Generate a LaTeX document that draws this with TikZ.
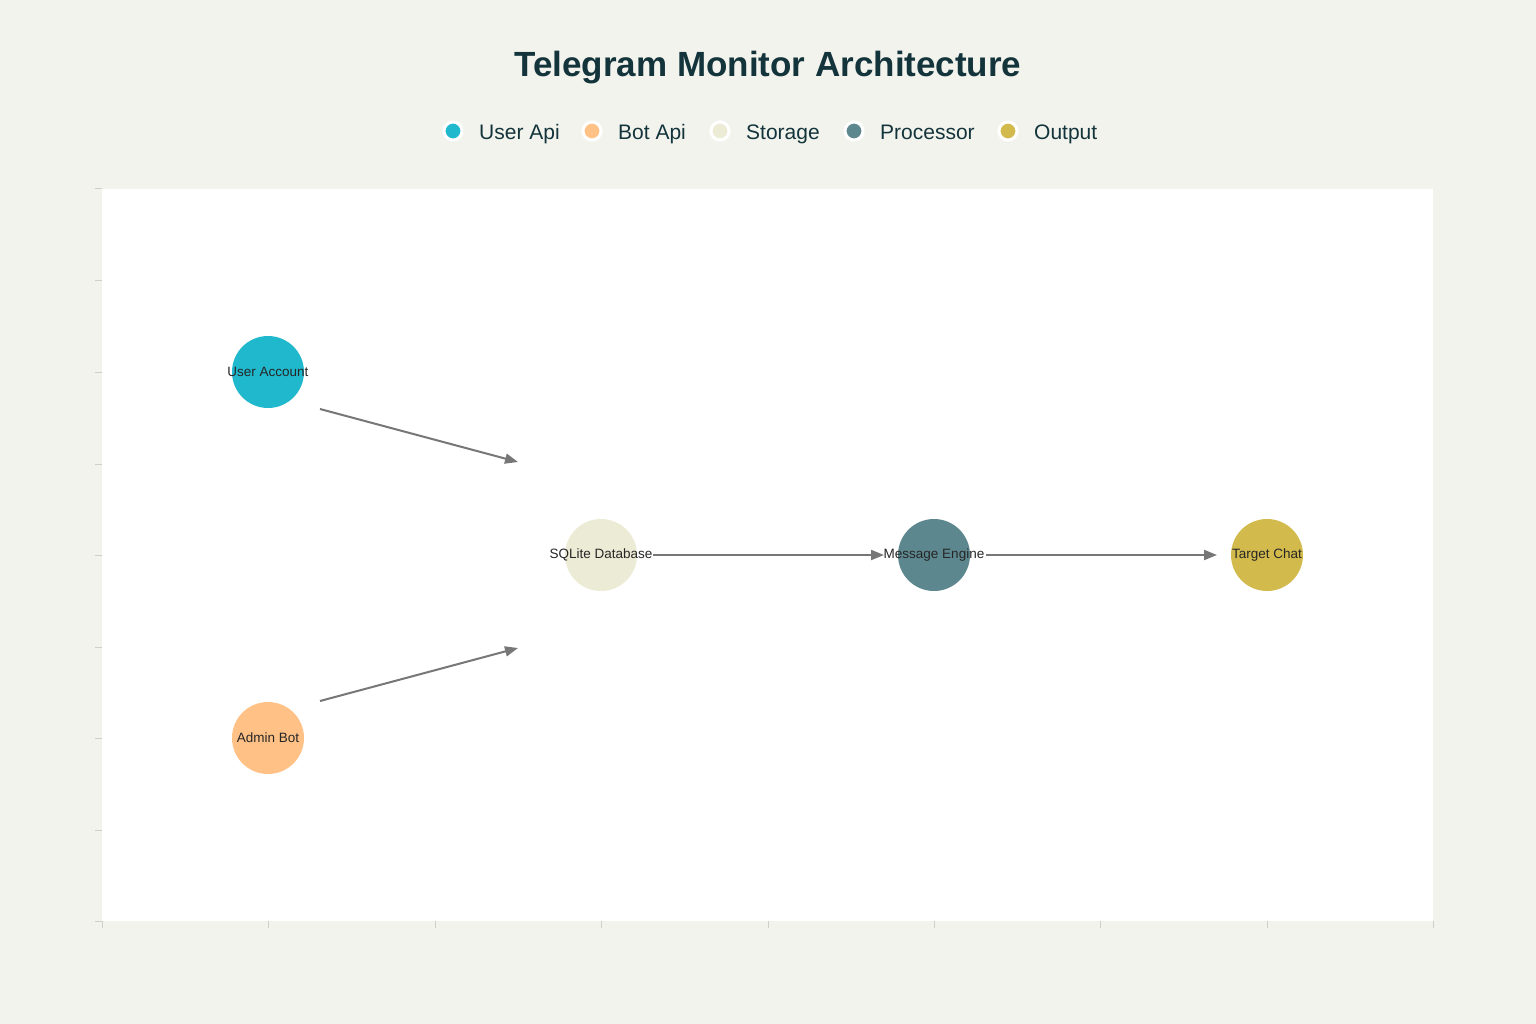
\documentclass[tikz,border=0pt]{standalone}
\usepackage{fontspec}
\setmainfont{Liberation Sans}
\usetikzlibrary{arrows.meta}
\definecolor{bg}{HTML}{F3F3EE}
\definecolor{titlec}{HTML}{13343B}
\definecolor{cuser}{HTML}{1FB8CD}
\definecolor{cbot}{HTML}{FFC185}
\definecolor{cstore}{HTML}{ECEBD5}
\definecolor{cproc}{HTML}{5D878F}
\definecolor{cout}{HTML}{D2BA4C}
\definecolor{edgec}{HTML}{777777}
\definecolor{tickc}{HTML}{CFCFCA}
\tikzset{
  ent/.style={circle, minimum size=72pt, inner sep=0pt, draw=none},
  lbl/.style={font=\fontsize{13.5}{13.5}\selectfont, text=black!85, inner sep=0pt},
  leg/.style={circle, minimum size=18pt, inner sep=0pt, draw=white, line width=3pt},
  legtxt/.style={anchor=base west, font=\fontsize{21}{21}\selectfont, text=titlec, inner sep=0pt},
  flow/.style={draw=edgec, line width=2pt, -{Triangle[length=13pt,width=10pt]}},
  tick/.style={draw=tickc, line width=1pt}
}
\begin{document}
\begin{tikzpicture}[x=1pt,y=-1pt]
\fill[bg] (0,0) rectangle (1536,1024);
\useasboundingbox (0,0) rectangle (1536,1024);
\fill[white] (102,189) rectangle (1433,921);
% ticks
\foreach \yy in {189,281,372,464,555,647,738,830,921} \draw[tick] (95,\yy) -- (102,\yy);
\foreach \xx in {102,268,435,601,768,934,1100,1267,1433} \draw[tick] (\xx,921) -- (\xx,928);
% title
\node[font=\bfseries\fontsize{35}{35}\selectfont, text=titlec, anchor=base, inner sep=0pt] (title) at (768,77) {Telegram Monitor Architecture};
% legend
\node[leg, fill=cuser] (l1) at (453,131) {};
\node[legtxt] (t1) at (479,139.5) {User Api};
\node[leg, fill=cbot] (l2) at (592,131) {};
\node[legtxt] (t2) at (618,139.5) {Bot Api};
\node[leg, fill=cstore] (l3) at (720,131) {};
\node[legtxt] (t3) at (746,139.5) {Storage};
\node[leg, fill=cproc] (l4) at (854,131) {};
\node[legtxt] (t4) at (880,139.5) {Processor};
\node[leg, fill=cout] (l5) at (1008,131) {};
\node[legtxt] (t5) at (1034,139.5) {Output};
% nodes
\node[ent, fill=cuser] (ua) at (268,372) {};
\node[lbl] (uat) at (ua.center) {User Account};
\node[ent, fill=cbot] (ab) at (268,738) {};
\node[lbl] (abt) at (ab.center) {Admin Bot};
\node[ent, fill=cstore] (db) at (601,555) {};
\node[lbl] (dbt) at (db.center) {SQLite Database};
\node[ent, fill=cproc] (me) at (934,555) {};
\node[lbl] (met) at (me.center) {Message Engine};
\node[ent, fill=cout] (tc) at (1267,555) {};
\node[lbl] (tct) at (tc.center) {Target Chat};
% connectors
\draw[flow] ([shift={(52,37)}]ua.center) -- ([shift={(-83,-93)}]db.center);
\draw[flow] ([shift={(52,-37)}]ab.center) -- ([shift={(-83,93)}]db.center);
\draw[flow] ([shift={(52,0)}]db.center) -- ([shift={(-50,0)}]me.center);
\draw[flow] ([shift={(52,0)}]me.center) -- ([shift={(-50,0)}]tc.center);
\end{tikzpicture}
\end{document}
